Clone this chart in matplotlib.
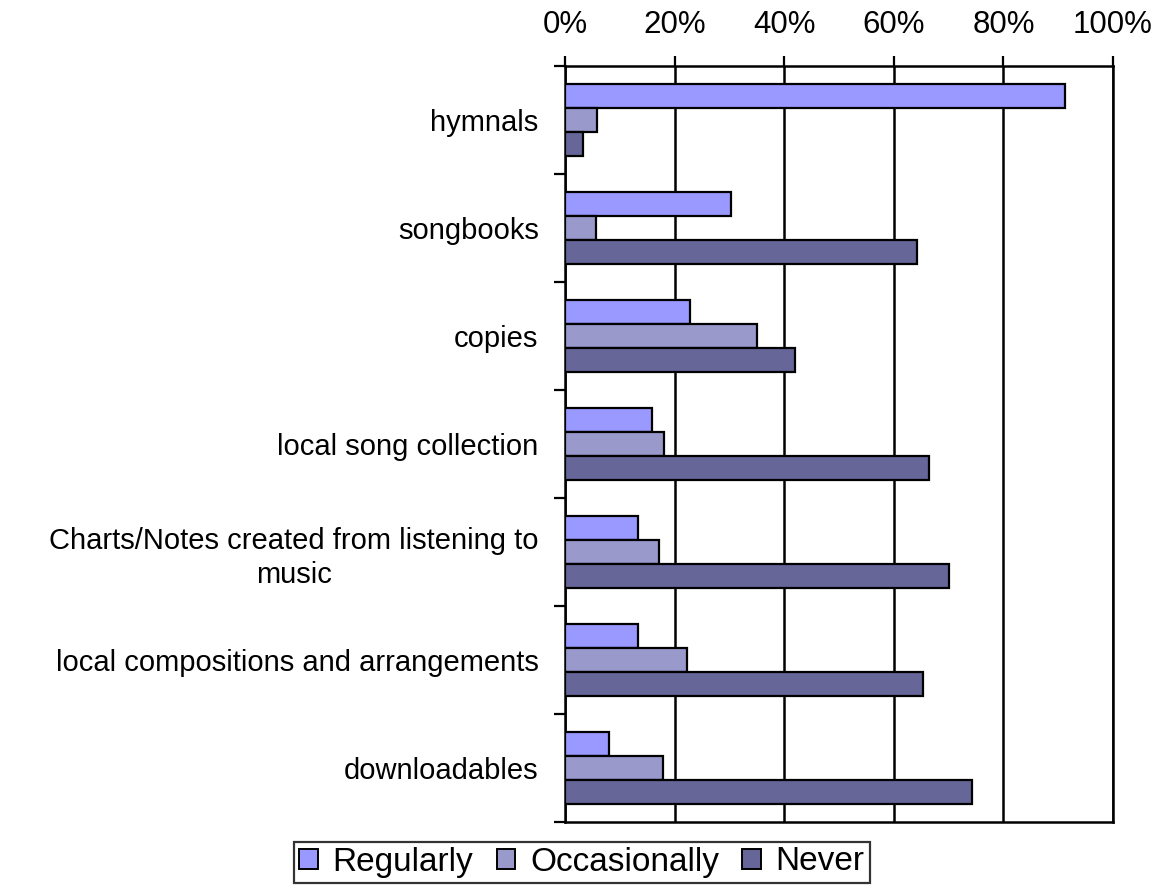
import numpy as np
import matplotlib
matplotlib.use("Agg")
import matplotlib.pyplot as plt
from matplotlib.ticker import PercentFormatter, FixedLocator

plt.rcParams['font.family'] = ['Liberation Sans', 'DejaVu Sans']

categories = ['hymnals', 'songbooks', 'copies', 'local song collection',
              'Charts/Notes created from listening to\nmusic',
              'local compositions and arrangements', 'downloadables']
series = ['Regularly', 'Occasionally', 'Never']
regularly = [0.912, 0.303, 0.228, 0.159, 0.133, 0.133, 0.080]
occasionally = [0.059, 0.057, 0.351, 0.181, 0.171, 0.223, 0.179]
never = [0.032, 0.643, 0.420, 0.665, 0.701, 0.653, 0.743]
colors = ['#9999FF', '#9999CC', '#666699']

fig = plt.figure(figsize=(11.62, 8.94), dpi=100)
ax = fig.add_axes([565 / 1162, 1 - 822 / 894, 548 / 1162, 756 / 894])

y = np.arange(len(categories))
h = 0.225
for k, (vals, name, col) in enumerate(zip([regularly, occasionally, never], series, colors)):
    ax.barh(y + (k - 1) * h, vals, height=h, color=col, edgecolor='black',
            linewidth=1.6, label=name, zorder=3)

ax.set_xlim(0, 1)
ax.set_ylim(len(categories) - 0.5, -0.5)

ax.xaxis.set_major_locator(FixedLocator([0, 0.2, 0.4, 0.6, 0.8, 1.0]))
ax.xaxis.set_major_formatter(PercentFormatter(1.0, decimals=0))
ax.xaxis.tick_top()
ax.tick_params(axis='x', which='major', direction='out', length=7, width=1.6,
               pad=12, labelsize=22.5, top=True, bottom=False)
ax.grid(axis='x', color='black', linewidth=1.8, zorder=1)

ax.set_yticks(y)
ax.set_yticklabels(categories, linespacing=1.25)
ax.yaxis.set_minor_locator(FixedLocator(np.arange(-0.5, len(categories), 1.0)))
ax.tick_params(axis='y', which='major', length=0, pad=19, labelsize=21)
ax.tick_params(axis='y', which='minor', direction='out', length=8, width=1.6)
for lab in ax.get_yticklabels():
    lab.set_multialignment('center')

for side in ['left', 'top', 'bottom', 'right']:
    ax.spines[side].set_linewidth(1.8)
    ax.spines[side].set_color('black')

leg = fig.legend(loc='center', bbox_to_anchor=(582 / 1162, 1 - 862 / 894), ncol=3,
                 fontsize=24, frameon=True, fancybox=False, edgecolor='black',
                 handlelength=0.55, handleheight=0.55, handletextpad=0.45,
                 columnspacing=0.7, borderpad=0.15, borderaxespad=0)
leg.get_frame().set_linewidth(1.6)
for hnd in leg.legend_handles:
    hnd.set_linewidth(1.4)

fig.savefig('out.png', dpi=100)
